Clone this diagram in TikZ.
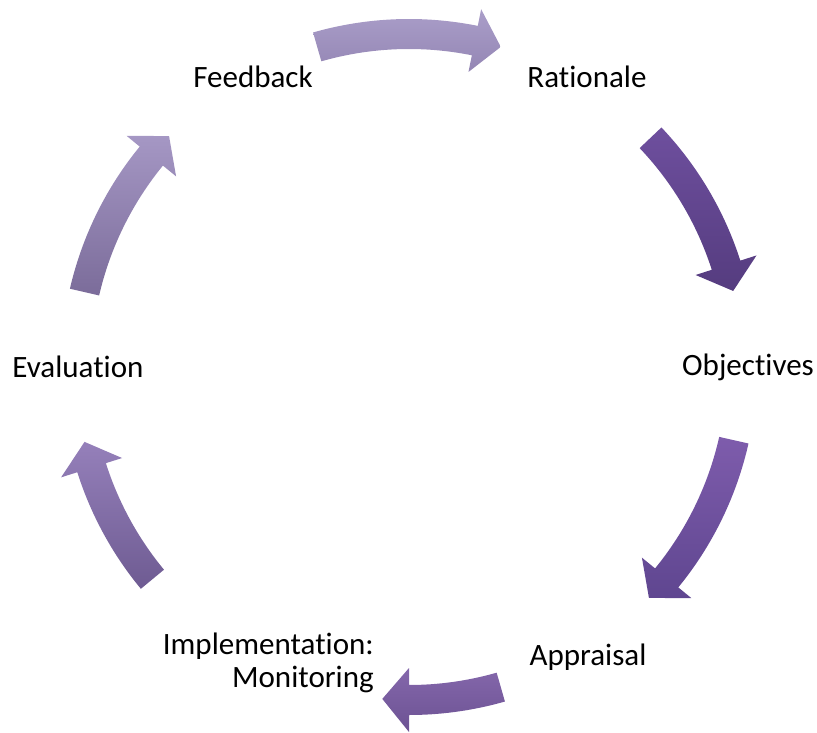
\documentclass[tikz,border=0pt]{standalone}
\usepackage{fontspec}
\setmainfont{Carlito}[Ligatures=NoCommon]
\usepackage{tikz}
\usetikzlibrary{positioning}

% arrow shades, light (top) and dark (bottom)
\definecolor{fbtop}{HTML}{AA9EC9}
\definecolor{fbbot}{HTML}{9486B4}
\definecolor{ratop}{HTML}{6E4F9E}
\definecolor{rabot}{HTML}{553C7F}
\definecolor{obtop}{HTML}{7E5CAC}
\definecolor{obbot}{HTML}{5F4690}
\definecolor{aptop}{HTML}{8467AB}
\definecolor{apbot}{HTML}{6C5293}
\definecolor{imtop}{HTML}{9580BA}
\definecolor{imbot}{HTML}{6E5B92}
\definecolor{evtop}{HTML}{A597C4}
\definecolor{evbot}{HTML}{7B6C9A}

\begin{document}
\begin{tikzpicture}[
        x=0.03cm, y=0.03cm,
        stage/.style={font=\fontsize{26.5}{28}\selectfont, inner sep=0pt, align=center},
        impl/.style={stage, align=right},
        blockarrow/.style={draw=none}
    ]
    \useasboundingbox (-409,-366) rectangle (408,367);
    \node [stage] (feedback) at (-156,290) {Feedback};
    \node [stage] (rationale) at (178,290) {Rationale};
    \node [stage] (objectives) at (339,0) {Objectives};
    \node [stage] (appraisal) at (179,-290) {Appraisal};
    \node [impl, anchor=east] (implementation) at (-35,-296) {Implementation:\\Monitoring};
    \node [stage] (evaluation) at (-331,0) {Evaluation};
    % curved block arrows, clockwise from tail angle to tip angle
    \foreach \tl/\tp/\lc/\dc in {106/74/fbtop/fbbot, 43.5/13.2/ratop/rabot,
                                 -12.7/-43.9/obtop/obbot, -74/-94.6/aptop/apbot,
                                 -140.4/-167/imtop/imbot, 167/136.1/evtop/evbot} {
        \pgfmathsetmacro{\hb}{\tp+4.6}
        \path [blockarrow, top color=\lc, bottom color=\dc]
            (\tl:348) arc[start angle=\tl, end angle=\hb, radius=348]
            -- (\hb:365) -- (\tp:333) -- (\hb:301) -- (\hb:318)
            arc[start angle=\hb, end angle=\tl, radius=318] -- cycle;
    }
\end{tikzpicture}
\end{document}
